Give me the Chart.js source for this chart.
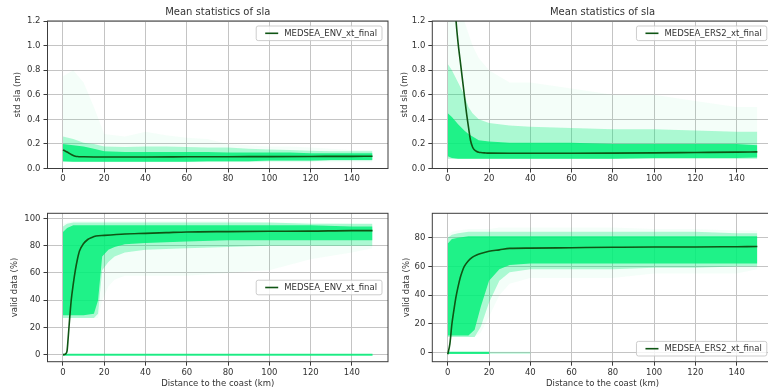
<!DOCTYPE html>
<html><head><meta charset="utf-8">
<script src="https://cdn.jsdelivr.net/npm/chart.js@4/dist/chart.umd.min.js"></script>
<style>
html,body{margin:0;padding:0;background:#fff;overflow:hidden;width:768px;height:392px;position:relative;}
canvas{position:absolute;}
</style></head><body>
<canvas id="c1" width="400" height="196" style="left:0;top:0"></canvas>
<canvas id="c2" width="400" height="196" style="left:384px;top:0"></canvas>
<canvas id="c3" width="400" height="196" style="left:0;top:196px"></canvas>
<canvas id="c4" width="400" height="196" style="left:384px;top:196px"></canvas>
<script>
// ---- tick labels ----
const xTicks = [0, 20, 40, 60, 80, 100, 120, 140];
const stdTicks = [0, 0.2, 0.4, 0.6, 0.8, 1.0, 1.2];
const envValidTicks = [0, 20, 40, 60, 80, 100];
const ers2ValidTicks = [0, 20, 40, 60, 80];

// ---- series names / titles ----
const envName = 'MEDSEA_ENV_xt_final';
const ers2Name = 'MEDSEA_ERS2_xt_final';
const topTitle = 'Mean statistics of sla';

// ---- ENV std sla (top left) ----
const envStdX    = [0, 1, 2, 3, 4, 5, 6, 7, 8, 10, 15, 20, 30, 40, 60, 80, 100, 120, 140, 150];
const envStdMean = [0.15, 0.143, 0.134, 0.124, 0.114, 0.106, 0.1, 0.097, 0.096, 0.095, 0.094, 0.094, 0.094, 0.094, 0.095, 0.096, 0.097, 0.098, 0.099, 0.1];
const envStdBandX    = [0, 5, 10, 15, 20, 30, 40, 50, 60, 70, 80, 90, 100, 110, 120, 130, 140, 150];
const envStdFaintLo  = [0.05, 0.05, 0.05, 0.05, 0.05, 0.05, 0.05, 0.05, 0.05, 0.05, 0.05, 0.05, 0.05, 0.05, 0.05, 0.05, 0.05, 0.05];
const envStdFaintHi  = [0.75, 0.8, 0.7, 0.5, 0.28, 0.26, 0.3, 0.27, 0.25, 0.24, 0.2, 0.19, 0.18, 0.18, 0.17, 0.16, 0.15, 0.15];
const envStdMidLo    = [0.055, 0.055, 0.055, 0.055, 0.055, 0.055, 0.055, 0.055, 0.055, 0.055, 0.055, 0.055, 0.06, 0.06, 0.06, 0.065, 0.065, 0.065];
const envStdMidHi    = [0.26, 0.24, 0.21, 0.2, 0.18, 0.175, 0.18, 0.18, 0.175, 0.17, 0.17, 0.16, 0.155, 0.15, 0.145, 0.14, 0.14, 0.14];
const envStdCoreLo   = [0.06, 0.055, 0.055, 0.055, 0.055, 0.055, 0.055, 0.055, 0.055, 0.06, 0.06, 0.06, 0.065, 0.065, 0.065, 0.07, 0.07, 0.07];
const envStdCoreHi   = [0.2, 0.19, 0.18, 0.16, 0.14, 0.135, 0.135, 0.135, 0.135, 0.135, 0.13, 0.13, 0.13, 0.13, 0.125, 0.125, 0.125, 0.125];

// ---- ERS2 std sla (top right) ----
const ers2StdX    = [1, 2, 3, 4, 5, 6, 7, 8, 9, 10, 11, 12, 13, 14, 15, 16, 18, 20, 30, 40, 60, 80, 100, 120, 140, 150];
const ers2StdMean = [2.3, 1.8, 1.45, 1.2, 1.02, 0.88, 0.74, 0.6, 0.46, 0.34, 0.23, 0.175, 0.15, 0.139, 0.133, 0.13, 0.127, 0.125, 0.124, 0.124, 0.124, 0.125, 0.127, 0.13, 0.133, 0.135];
const ers2StdBandX   = [0, 2, 5, 8, 10, 12, 15, 20, 30, 40, 60, 80, 100, 120, 140, 150];
const ers2StdFaintLo = [0.08, 0.08, 0.08, 0.08, 0.08, 0.08, 0.08, 0.08, 0.08, 0.08, 0.08, 0.08, 0.08, 0.08, 0.08, 0.08];
const ers2StdFaintHi = [1.2, 1.2, 1.2, 1.2, 1.1, 1.0, 0.9, 0.8, 0.7, 0.7, 0.65, 0.6, 0.6, 0.55, 0.5, 0.5];
const ers2StdMidLo   = [0.08, 0.08, 0.08, 0.08, 0.08, 0.08, 0.08, 0.08, 0.08, 0.08, 0.08, 0.08, 0.08, 0.08, 0.08, 0.08];
const ers2StdMidHi   = [0.85, 0.8, 0.7, 0.6, 0.5, 0.45, 0.4, 0.37, 0.35, 0.34, 0.33, 0.32, 0.32, 0.31, 0.3, 0.3];
const ers2StdCoreLo  = [0.1, 0.085, 0.08, 0.08, 0.08, 0.08, 0.08, 0.08, 0.08, 0.08, 0.08, 0.08, 0.085, 0.085, 0.085, 0.09];
const ers2StdCoreHi  = [0.45, 0.42, 0.36, 0.31, 0.28, 0.26, 0.23, 0.22, 0.21, 0.21, 0.21, 0.2, 0.2, 0.2, 0.2, 0.19];

// ---- ENV valid data (bottom left) ----
const envValidX    = [0, 1, 1.5, 2, 2.5, 3, 4, 5, 6, 7, 8, 10, 12, 14, 16, 20, 30, 40, 50, 60, 80, 100, 120, 140, 150];
const envValidMean = [0, 0.3, 1, 3, 12, 22, 40, 52, 62, 70, 76, 81.5, 84.5, 86, 87, 87.5, 88.5, 89, 89.5, 90, 90.3, 90.5, 90.6, 91, 91];
const envValidBandX   = [0, 2, 5, 10, 15, 17, 19, 22, 25, 30, 40, 60, 80, 100, 120, 140, 150];
const envValidFaintLo = [27, 27, 27, 27, 27, 27, 40, 50, 55, 58, 58, 58, 60, 62, 70, 75, 78];
const envValidFaintHi = [96, 97, 98, 98, 98, 98, 98, 98, 98, 98, 98, 98, 98, 97, 97, 96, 96];
const envValidMidLo   = [27, 27, 27, 27, 27, 30, 62, 68, 72, 75, 77, 78, 79, 80, 80, 80, 80];
const envValidMidHi   = [94, 96, 97, 97, 97, 97, 97, 97, 97, 97, 97, 97, 97, 97, 96, 96, 96];
const envValidCoreLo  = [29, 29, 29, 29, 30, 40, 72, 77, 79, 81, 82, 83, 84, 84, 84, 84, 84];
const envValidCoreHi  = [90, 93, 95, 95, 95, 95, 95, 95, 95, 95, 95, 95, 95, 95, 95, 94, 94];
const envZeroX = [0, 150];
const envZeroY = [0, 0];

// ---- ERS2 valid data (bottom right) ----
const ers2ValidX    = [0, 1, 2, 3, 4, 5, 6, 7, 8, 10, 12, 14, 16, 20, 25, 30, 40, 60, 80, 100, 120, 140, 150];
const ers2ValidMean = [-1, 6, 20, 30, 39, 46, 52, 56.5, 60, 64, 66.5, 68, 69, 70.5, 71.5, 72.5, 72.7, 73, 73.3, 73.5, 73.5, 73.7, 73.8];
const ers2ValidBandX   = [0, 2, 5, 10, 13, 16, 20, 25, 30, 40, 60, 80, 100, 120, 140, 150];
const ers2ValidFaintLo = [11, 11, 11, 11, 11, 14, 25, 40, 48, 52, 52, 52, 55, 55, 55, 58];
const ers2ValidFaintHi = [82, 84, 85, 86, 86, 86, 86, 87, 87, 87, 87, 87, 86, 86, 85, 85];
const ers2ValidMidLo   = [11, 11, 11, 11, 11, 18, 35, 50, 56, 58, 58, 58, 59, 59, 60, 60];
const ers2ValidMidHi   = [80, 82, 83, 84, 84, 84, 84, 84, 84, 84, 84, 84, 84, 84, 83, 83];
const ers2ValidCoreLo  = [12, 12, 12, 12, 16, 32, 50, 58, 61, 62, 62, 62, 62, 62, 62, 62];
const ers2ValidCoreHi  = [76, 79, 80, 81, 81, 81, 81, 81, 81, 81, 81, 81, 81, 81, 81, 81];
const ers2ZeroX = [0, 20];
const ers2ZeroY = [0, 0];
const ers2ZeroFadeX = [20, 40];
const ers2ZeroFadeY = [0, 0];

// ---- styling ----
const FONT = 'DejaVu Sans';
const TXT = '#333333';
const GRID = '#c4c4c4';
const GREEN = '0,240,120';
const MEAN = '#0f5514';
const ALPHA = {faint: 0.045, mid: 0.3, core: 0.82};

function pts(xs, ys) { return xs.map((x, i) => ({x: x, y: ys[i]})); }

const deco = {
  id: 'mplDeco',
  afterDraw(chart, args, o) {
    const ctx = chart.ctx, a = chart.chartArea;
    ctx.save();
    ctx.strokeStyle = '#3c3c3c';
    ctx.lineWidth = 1;
    ctx.strokeRect(a.left, a.top, a.right - a.left, a.bottom - a.top);
    // legend
    const text = chart.data.datasets[0].label;
    ctx.font = '8.5px "' + FONT + '"';
    const tw = ctx.measureText(text).width;
    const w = 9 + 13 + 6 + tw + 5, h = 14.6;
    const x = a.right - 6 - w;
    let y;
    if (o.pos === 'upper') y = a.top + 5;
    else if (o.pos === 'center') y = (a.top + a.bottom) / 2 - h / 2;
    else y = a.bottom - 5.7 - h;
    ctx.beginPath();
    if (ctx.roundRect) ctx.roundRect(x, y, w, h, 2); else ctx.rect(x, y, w, h);
    ctx.fillStyle = 'rgba(255,255,255,0.8)';
    ctx.fill();
    ctx.strokeStyle = 'rgba(200,200,200,0.9)';
    ctx.stroke();
    ctx.beginPath();
    ctx.moveTo(x + 9, y + h / 2);
    ctx.lineTo(x + 22, y + h / 2);
    ctx.strokeStyle = MEAN;
    ctx.lineWidth = 1.6;
    ctx.stroke();
    ctx.fillStyle = TXT;
    ctx.textBaseline = 'middle';
    ctx.textAlign = 'left';
    ctx.fillText(text, x + 28, y + h / 2 + 0.5);
    ctx.restore();
  }
};

function band(ds, xs, lo, hi, alpha, order) {
  const idx = ds.length;
  ds.push({data: pts(xs, lo), borderColor: 'rgba(0,0,0,0)', borderWidth: 0, pointRadius: 0, fill: false, order: order});
  ds.push({data: pts(xs, hi), borderColor: 'rgba(0,0,0,0)', borderWidth: 0, pointRadius: 0,
           backgroundColor: 'rgba(' + GREEN + ',' + alpha + ')', fill: idx, order: order});
}

function make(id, c) {
  const ds = [];
  ds.push({label: c.name, data: pts(c.meanX, c.meanY), borderColor: MEAN, borderWidth: 1.6,
           pointRadius: 0, fill: false, cubicInterpolationMode: 'monotone', order: 0});
  (c.zeros || []).forEach(z => ds.push({data: pts(z.x, z.y), borderColor: 'rgba(' + GREEN + ',' + z.a + ')',
           borderWidth: 2.2, pointRadius: 0, fill: false, order: 1}));
  band(ds, c.bandX, c.faint[0], c.faint[1], ALPHA.faint, 4);
  band(ds, c.bandX, c.mid[0], c.mid[1], ALPHA.mid, 3);
  band(ds, c.bandX, c.core[0], c.core[1], ALPHA.core, 2);
  const tickFont = {family: FONT, size: 8.5};
  new Chart(document.getElementById(id), {
    type: 'line',
    data: {datasets: ds},
    options: {
      responsive: false, animation: false, events: [],
      layout: {padding: {left: 0, right: c.padR, top: c.padT, bottom: 0}},
      plugins: {
        legend: {display: false}, tooltip: {enabled: false},
        title: c.title ? {display: true, text: c.title, fullSize: false, color: TXT,
          font: {family: FONT, size: 10, weight: 'normal'}, padding: {top: 6.6, bottom: 2.4}} : {display: false},
        mplDeco: {pos: c.legendPos}
      },
      scales: {
        x: {
          type: 'linear', min: -7.5, max: 157.5,
          afterBuildTicks: s => { s.ticks = xTicks.map(v => ({value: v})); },
          afterFit: s => { s.height = c.xH; s.paddingLeft = 0; s.paddingRight = 0; },
          grid: {color: GRID, tickColor: '#3c3c3c', tickLength: 4, lineWidth: 1},
          border: {display: false},
          ticks: {font: tickFont, color: TXT, padding: c.xPad, maxRotation: 0, autoSkip: false, callback: v => String(v)},
          title: c.xTitle ? {display: true, text: c.xTitle, color: TXT, font: tickFont, padding: {top: 0, bottom: 3.2}} : {display: false}
        },
        y: {
          type: 'linear', min: c.yMin, max: c.yMax,
          afterBuildTicks: s => { s.ticks = c.yTicks.map(v => ({value: v})); },
          afterFit: s => { s.width = c.yW; s.paddingTop = 0; s.paddingBottom = 0; },
          grid: {color: GRID, tickColor: '#3c3c3c', tickLength: 4, lineWidth: 1},
          border: {display: false},
          ticks: {font: tickFont, color: TXT, padding: 3, autoSkip: false, callback: c.yFmt},
          title: {display: true, text: c.yTitle, color: TXT, font: tickFont, padding: {top: c.yTitlePad, bottom: 0}}
        }
      }
    },
    plugins: [deco]
  });
}

const f1 = v => v.toFixed(1);
const f0 = v => String(Math.round(v));

make('c1', {name: envName, title: topTitle, meanX: envStdX, meanY: envStdMean, bandX: envStdBandX,
  faint: [envStdFaintLo, envStdFaintHi], mid: [envStdMidLo, envStdMidHi], core: [envStdCoreLo, envStdCoreHi],
  padR: 12, padT: 0, xH: 27.5, xPad: 1, yW: 47.5, yMin: 0, yMax: 1.2, yTicks: stdTicks, yFmt: f1,
  yTitle: 'std sla (m)', yTitlePad: 12.9, legendPos: 'upper'});
make('c2', {name: ers2Name, title: topTitle, meanX: ers2StdX, meanY: ers2StdMean, bandX: ers2StdBandX,
  faint: [ers2StdFaintLo, ers2StdFaintHi], mid: [ers2StdMidLo, ers2StdMidHi], core: [ers2StdCoreLo, ers2StdCoreHi],
  padR: 11.2, padT: 0, xH: 27.5, xPad: 1, yW: 48.3, yMin: 0, yMax: 1.2, yTicks: stdTicks, yFmt: f1,
  yTitle: 'std sla (m)', yTitlePad: 15.6, legendPos: 'upper'});
make('c3', {name: envName, meanX: envValidX, meanY: envValidMean, bandX: envValidBandX,
  faint: [envValidFaintLo, envValidFaintHi], mid: [envValidMidLo, envValidMidHi], core: [envValidCoreLo, envValidCoreHi],
  zeros: [{x: envZeroX, y: envZeroY, a: 0.85}],
  padR: 12, padT: 17.3, xH: 30.3, xPad: 2, yW: 47.5, yMin: -5.1, yMax: 103.7, yTicks: envValidTicks, yFmt: f0,
  yTitle: 'valid data (%)', yTitlePad: 9.9, legendPos: 'center', xTitle: 'Distance to the coast (km)'});
make('c4', {name: ers2Name, meanX: ers2ValidX, meanY: ers2ValidMean, bandX: ers2ValidBandX,
  faint: [ers2ValidFaintLo, ers2ValidFaintHi], mid: [ers2ValidMidLo, ers2ValidMidHi], core: [ers2ValidCoreLo, ers2ValidCoreHi],
  zeros: [{x: ers2ZeroX, y: ers2ZeroY, a: 0.85}, {x: ers2ZeroFadeX, y: ers2ZeroFadeY, a: 0.2}],
  padR: 11.2, padT: 17.3, xH: 30.3, xPad: 2, yW: 48.3, yMin: -6.2, yMax: 96.9, yTicks: ers2ValidTicks, yFmt: f0,
  yTitle: 'valid data (%)', yTitlePad: 17.6, legendPos: 'lower', xTitle: 'Distance to the coast (km)'});
</script>
</body></html>
